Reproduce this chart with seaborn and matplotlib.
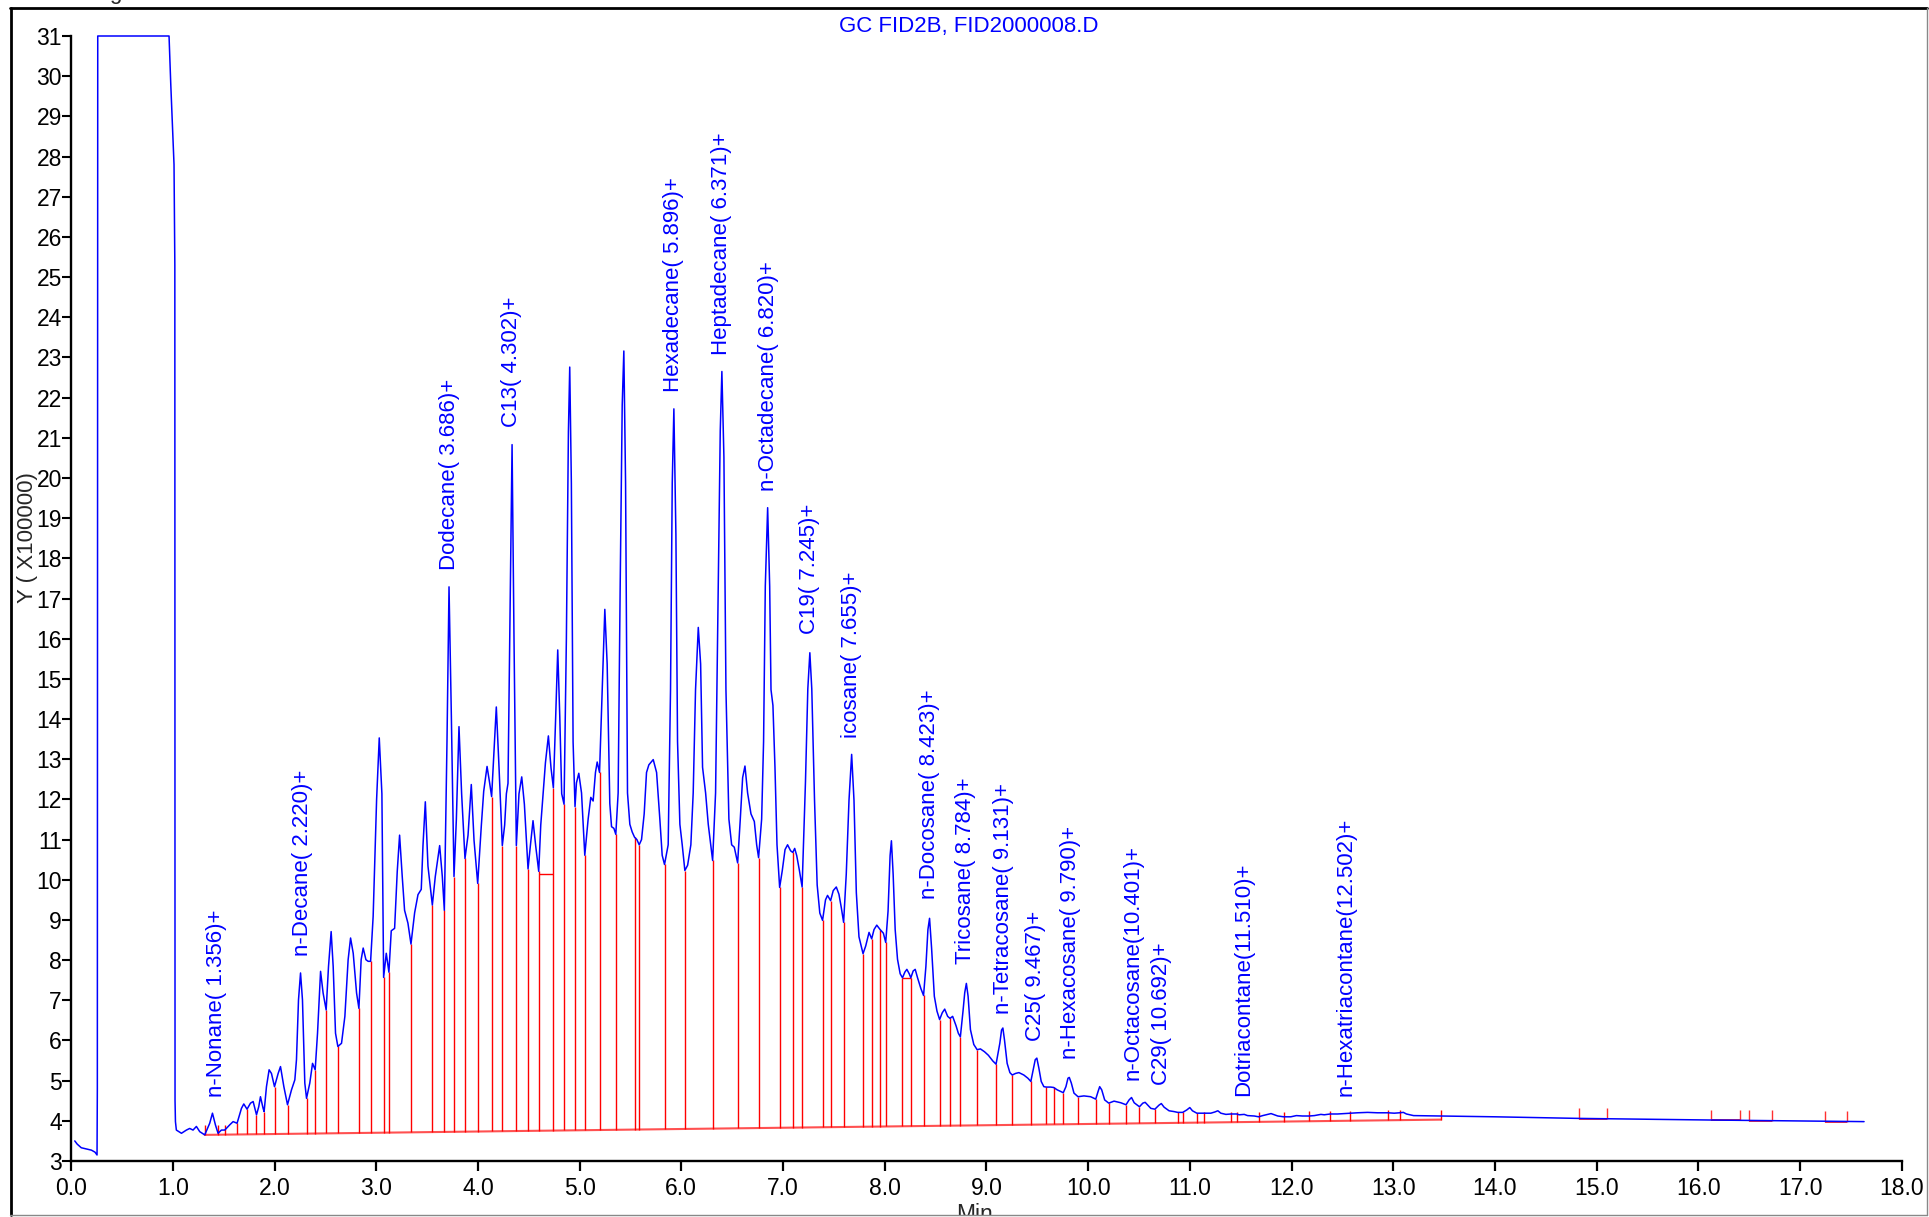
import numpy as np
import pandas as pd
import seaborn as sns
import matplotlib.pyplot as plt
from matplotlib.lines import Line2D
from matplotlib.patches import Rectangle

W, H = 1929, 1217

# chromatogram trace (retention time in min, signal x100000)
rt = [0.036, 0.060, 0.100, 0.150, 0.200, 0.235, 0.255, 0.258, 0.262, 0.963, 0.980, 1.012, 1.020, 1.022, 1.026,
      1.035, 1.085, 1.134, 1.166, 1.199, 1.232, 1.265, 1.314, 1.363, 1.390, 1.419, 1.445, 1.478, 1.511, 1.560,
      1.593, 1.632, 1.675, 1.698, 1.730, 1.764, 1.790, 1.823, 1.845, 1.862, 1.888, 1.898, 1.921, 1.947, 1.970,
      2.000, 2.036, 2.059, 2.092, 2.128, 2.167, 2.200, 2.216, 2.236, 2.256, 2.275, 2.298, 2.315, 2.347, 2.374,
      2.400, 2.423, 2.453, 2.478, 2.508, 2.531, 2.557, 2.577, 2.600, 2.623, 2.659, 2.692, 2.724, 2.748, 2.774,
      2.807, 2.830, 2.852, 2.872, 2.899, 2.921, 2.945, 2.970, 3.004, 3.030, 3.056, 3.073, 3.099, 3.125, 3.148,
      3.181, 3.207, 3.230, 3.256, 3.279, 3.312, 3.342, 3.378, 3.411, 3.443, 3.460, 3.483, 3.509, 3.552, 3.581,
      3.624, 3.650, 3.670, 3.696, 3.716, 3.739, 3.765, 3.788, 3.814, 3.840, 3.873, 3.903, 3.935, 3.962, 3.998,
      4.034, 4.057, 4.090, 4.116, 4.135, 4.155, 4.181, 4.208, 4.240, 4.263, 4.280, 4.296, 4.313, 4.336, 4.355,
      4.378, 4.404, 4.431, 4.457, 4.493, 4.516, 4.542, 4.568, 4.598, 4.618, 4.641, 4.664, 4.693, 4.719, 4.742,
      4.765, 4.785, 4.805, 4.824, 4.847, 4.870, 4.890, 4.903, 4.919, 4.936, 4.955, 4.969, 4.992, 5.019, 5.051,
      5.084, 5.110, 5.133, 5.156, 5.173, 5.196, 5.222, 5.248, 5.271, 5.297, 5.314, 5.337, 5.356, 5.379, 5.399,
      5.419, 5.435, 5.452, 5.471, 5.494, 5.517, 5.540, 5.563, 5.586, 5.609, 5.635, 5.658, 5.681, 5.724, 5.757,
      5.789, 5.812, 5.835, 5.871, 5.894, 5.911, 5.927, 5.947, 5.963, 5.986, 6.009, 6.035, 6.062, 6.094, 6.117,
      6.140, 6.167, 6.190, 6.209, 6.239, 6.265, 6.308, 6.337, 6.363, 6.383, 6.399, 6.419, 6.439, 6.468, 6.495,
      6.521, 6.554, 6.580, 6.603, 6.626, 6.652, 6.685, 6.718, 6.741, 6.760, 6.790, 6.809, 6.826, 6.849, 6.869,
      6.882, 6.901, 6.921, 6.941, 6.967, 6.993, 7.020, 7.045, 7.075, 7.096, 7.115, 7.135, 7.160, 7.188, 7.221,
      7.244, 7.264, 7.283, 7.310, 7.336, 7.362, 7.389, 7.418, 7.438, 7.468, 7.494, 7.524, 7.550, 7.573, 7.596,
      7.622, 7.649, 7.675, 7.698, 7.721, 7.747, 7.787, 7.813, 7.846, 7.872, 7.895, 7.922, 7.955, 7.987, 8.010,
      8.033, 8.053, 8.066, 8.083, 8.103, 8.126, 8.152, 8.175, 8.198, 8.218, 8.241, 8.257, 8.280, 8.300, 8.323,
      8.356, 8.382, 8.405, 8.425, 8.441, 8.461, 8.488, 8.514, 8.540, 8.566, 8.590, 8.619, 8.642, 8.668, 8.701,
      8.724, 8.744, 8.770, 8.787, 8.803, 8.820, 8.843, 8.876, 8.909, 8.941, 8.981, 9.020, 9.063, 9.095, 9.132,
      9.149, 9.162, 9.178, 9.204, 9.231, 9.254, 9.287, 9.320, 9.368, 9.408, 9.437, 9.460, 9.480, 9.496, 9.516,
      9.539, 9.565, 9.588, 9.631, 9.661, 9.697, 9.756, 9.782, 9.802, 9.815, 9.835, 9.861, 9.901, 9.959, 10.025,
      10.075, 10.098, 10.114, 10.134, 10.163, 10.203, 10.255, 10.321, 10.373, 10.403, 10.427, 10.453, 10.505,
      10.538, 10.561, 10.584, 10.617, 10.657, 10.697, 10.720, 10.747, 10.796, 10.845, 10.881, 10.930, 10.970,
      11.000, 11.026, 11.069, 11.141, 11.207, 11.246, 11.276, 11.305, 11.355, 11.404, 11.460, 11.486, 11.535,
      11.568, 11.634, 11.677, 11.717, 11.799, 11.865, 11.924, 11.993, 12.048, 12.108, 12.173, 12.224, 12.289,
      12.322, 12.381, 12.453, 12.518, 12.574, 12.649, 12.748, 12.846, 12.948, 13.010, 13.063, 13.100, 13.130,
      13.200, 13.470, 14.000, 14.830, 16.120, 17.630]

signal = [3.50, 3.42, 3.33, 3.30, 3.27, 3.22, 3.15, 4.80, 31.0, 31.0, 29.8, 27.8, 25.3, 4.50, 3.98,
          3.77, 3.69, 3.77, 3.81, 3.77, 3.86, 3.73, 3.65, 3.94, 4.19, 3.90, 3.69, 3.77, 3.77, 3.90,
          3.98, 3.94, 4.31, 4.42, 4.29, 4.44, 4.48, 4.15, 4.35, 4.60, 4.31, 4.23, 4.85, 5.27, 5.18,
          4.85, 5.18, 5.35, 4.85, 4.40, 4.77, 5.02, 5.52, 7.01, 7.68, 7.01, 4.94, 4.56, 4.94, 5.43,
          5.27, 6.18, 7.72, 7.18, 6.76, 7.84, 8.71, 7.84, 6.18, 5.85, 5.93, 6.60, 8.01, 8.55, 8.17,
          7.18, 6.80, 8.01, 8.30, 8.01, 7.97, 7.97, 9.09, 12.00, 13.53, 12.14, 7.57, 8.17, 7.70, 8.73,
          8.79, 10.21, 11.11, 10.08, 9.24, 8.92, 8.40, 9.18, 9.63, 9.76, 10.85, 11.94, 10.34, 9.37, 10.08,
          10.85, 10.08, 9.24, 13.43, 17.29, 14.07, 10.08, 11.49, 13.81, 12.14, 10.53, 11.11, 12.37, 10.98, 9.91,
          11.36, 12.20, 12.82, 12.40, 12.07, 13.04, 14.30, 12.78, 10.85, 11.36, 12.14, 12.40, 16.00, 20.83, 16.00,
          10.85, 12.14, 12.56, 11.88, 10.27, 10.85, 11.47, 10.85, 10.21, 11.36, 12.14, 12.91, 13.58, 12.78, 12.29,
          14.07, 15.72, 14.07, 12.14, 11.88, 16.00, 21.15, 22.76, 19.87, 13.43, 11.82, 12.41, 12.65, 12.16, 10.61,
          11.51, 12.05, 11.96, 12.67, 12.93, 12.67, 14.73, 16.73, 15.37, 11.90, 11.32, 11.28, 11.13, 12.16, 17.31,
          21.81, 23.16, 19.88, 12.16, 11.38, 11.19, 11.06, 11.00, 10.87, 11.00, 11.64, 12.67, 12.86, 12.99, 12.67,
          11.51, 10.61, 10.38, 10.87, 14.73, 19.88, 21.72, 18.59, 13.44, 11.38, 10.87, 10.23, 10.36, 10.87, 12.16,
          14.73, 16.28, 15.37, 12.80, 12.16, 11.38, 10.48, 12.16, 17.31, 21.17, 22.65, 20.52, 14.73, 11.51, 10.87,
          10.81, 10.42, 11.51, 12.54, 12.83, 12.16, 11.64, 11.45, 10.87, 10.55, 11.51, 13.44, 17.31, 19.26, 17.31,
          14.73, 14.34, 12.80, 10.87, 9.81, 10.23, 10.75, 10.87, 10.72, 10.68, 10.78, 10.60, 10.25, 9.82, 12.44,
          14.75, 15.65, 14.75, 11.98, 9.87, 9.17, 8.99, 9.50, 9.61, 9.48, 9.73, 9.82, 9.64, 9.31, 8.94,
          10.14, 11.98, 13.12, 11.98, 9.68, 8.58, 8.16, 8.35, 8.69, 8.53, 8.76, 8.87, 8.76, 8.67, 8.44,
          9.22, 10.60, 10.97, 10.14, 8.76, 8.02, 7.66, 7.56, 7.70, 7.77, 7.66, 7.56, 7.73, 7.77, 7.56,
          7.29, 7.12, 7.84, 8.76, 9.04, 8.30, 7.10, 6.73, 6.52, 6.69, 6.78, 6.60, 6.55, 6.60, 6.37,
          6.18, 6.09, 6.73, 7.19, 7.42, 7.10, 6.27, 5.90, 5.77, 5.79, 5.72, 5.63, 5.49, 5.41, 5.93,
          6.26, 6.31, 6.01, 5.43, 5.20, 5.14, 5.18, 5.20, 5.14, 5.06, 4.98, 5.27, 5.52, 5.56, 5.31,
          4.98, 4.85, 4.84, 4.84, 4.83, 4.77, 4.70, 4.85, 5.06, 5.08, 4.94, 4.69, 4.60, 4.62, 4.60,
          4.54, 4.73, 4.85, 4.77, 4.52, 4.44, 4.49, 4.45, 4.40, 4.52, 4.58, 4.45, 4.35,
          4.44, 4.46, 4.40, 4.31, 4.29, 4.39, 4.43, 4.34, 4.25, 4.23, 4.21, 4.21, 4.27,
          4.33, 4.25, 4.19, 4.19, 4.19, 4.22, 4.25, 4.19, 4.16, 4.17, 4.17, 4.15, 4.16,
          4.13, 4.12, 4.10, 4.13, 4.18, 4.12, 4.10, 4.10, 4.13, 4.12, 4.12, 4.13, 4.16,
          4.15, 4.17, 4.17, 4.18, 4.19, 4.20, 4.21, 4.20, 4.20, 4.19, 4.20, 4.21, 4.17,
          4.13, 4.12, 4.10, 4.06, 4.02, 3.98]

# peak integration drop lines and baseline
drop_rt = [1.314, 1.445, 1.511, 1.632, 1.730, 1.823, 1.898, 2.000, 2.128, 2.315, 2.400, 2.508, 2.623, 2.830,
           2.945, 3.073, 3.125, 3.342, 3.552, 3.670, 3.765, 3.873, 3.998, 4.135, 4.240, 4.378, 4.493, 4.598,
           4.742, 4.847, 4.955, 5.051, 5.196, 5.356, 5.540, 5.586, 5.835, 6.035, 6.308, 6.554, 6.760, 6.967,
           7.096, 7.188, 7.389, 7.468, 7.596, 7.787, 7.872, 7.955, 8.010, 8.175, 8.257, 8.382, 8.540, 8.642,
           8.744, 8.909, 9.095, 9.254, 9.437, 9.588, 9.661, 9.756, 9.901, 10.075, 10.203, 10.373, 10.505,
           10.657, 10.881, 10.930, 11.069, 11.141, 11.404, 11.460, 11.677, 11.924, 12.173, 12.381, 12.574,
           12.948, 13.063, 13.470]
baseline_rt = [1.314, 13.470]
baseline_val = [3.65, 4.03]
box_start = [4.598, 8.175]
box_end = [4.742, 8.257]
box_level = [10.14, 7.56]
tail_start = [14.83, 16.12, 16.50, 17.25]
tail_end = [15.10, 16.41, 16.72, 17.46]
tail_level = [4.04, 4.01, 4.00, 3.98]

# peak names
peak_names = ["n-Nonane( 1.356)+", "n-Decane( 2.220)+", "Dodecane( 3.686)+", "C13( 4.302)+",
              "Hexadecane( 5.896)+", "Heptadecane( 6.371)+", "n-Octadecane( 6.820)+", "C19( 7.245)+",
              "icosane( 7.655)+", "n-Docosane( 8.423)+", "Tricosane( 8.784)+", "n-Tetracosane( 9.131)+",
              "C25( 9.467)+", "n-Hexacosane( 9.790)+", "n-Octacosane(10.401)+", "C29( 10.692)+",
              "Dotriacontane(11.510)+", "n-Hexatriacontane(12.502)+"]
label_rt = [1.426, 2.273, 3.716, 4.329, 5.927, 6.396, 6.855, 7.264, 7.675, 8.445, 8.793, 9.170,
            9.483, 9.825, 10.44, 10.717, 11.53, 12.535]
label_y = [4.60, 8.09, 17.70, 21.27, 22.15, 23.05, 19.68, 16.12, 13.52, 9.52, 7.90, 6.65,
           5.98, 5.53, 5.02, 4.89, 4.62, 4.62]

x_ticks = list(range(0, 19))
y_ticks = list(range(3, 32))

sns.set_theme(style='white')
plt.rcParams['font.family'] = ['Liberation Sans', 'DejaVu Sans']

blue = '#0000ff'
red = '#ff0000'

fig = plt.figure(figsize=(W / 100, H / 100), dpi=100)
ax = fig.add_axes([71.1 / W, 1 - 1161 / H, (1901.7 - 71.1) / W, (1161 - 36) / H])

trace = pd.DataFrame({'rt': rt, 'signal': signal})
sns.lineplot(data=trace, x='rt', y='signal', sort=False, estimator=None,
             color=blue, linewidth=1.1, clip_on=False, ax=ax, zorder=3)

# baseline + drop lines
ax.plot(baseline_rt, baseline_val, color='#ff5050', lw=1.5, zorder=2)
base = np.interp(drop_rt, baseline_rt, baseline_val)
tops = np.maximum(np.interp(drop_rt, rt, signal), base + 0.25)
ax.vlines(drop_rt, base, tops, colors=red, lw=1.0, zorder=2)
ax.hlines(box_level, box_start, box_end, colors=red, lw=1.0, zorder=2)

# small integration brackets on the tail
ax.hlines(tail_level, tail_start, tail_end, colors='#e0203a', lw=1.3, zorder=2)
ax.vlines(tail_start + tail_end, tail_level + tail_level,
          np.array(tail_level + tail_level) + 0.27, colors='#ff3030', lw=1.0, zorder=2)

for name, x, y in zip(peak_names, label_rt, label_y):
    ax.text(x, y, name, rotation=90, ha='center', va='bottom', color=blue, fontsize=16)

ax.set_xlim(0, 18)
ax.set_ylim(3, 31)
ax.set_xticks(x_ticks)
ax.set_xticklabels([f'{v:.1f}' for v in x_ticks])
ax.set_yticks(y_ticks)
ax.set_yticklabels([str(v) for v in y_ticks])
ax.set_xlabel('')
ax.set_ylabel('')
sns.despine(ax=ax)
for s in ['left', 'bottom']:
    ax.spines[s].set_linewidth(1.7)
    ax.spines[s].set_color('black')
ax.tick_params(axis='x', bottom=True, direction='out', length=7.2, width=1.6, pad=4,
               labelsize=16.5, colors='black')
ax.tick_params(axis='y', left=True, direction='out', length=6.2, width=1.5, pad=0.5,
               labelsize=16.5, colors='black')
ax.set_facecolor('white')

# texts outside the axes
fig.text(27.5 / W, 1 - 538 / H, 'Y ( X100000)', rotation=90, ha='center', va='center', fontsize=16)
fig.text(969 / W, 1 - 31.7 / H, 'GC FID2B, FID2000008.D', ha='center', va='baseline',
         color=blue, fontsize=16)
fig.text(975 / W, 1 - 1203 / H, 'Min', ha='center', va='top', fontsize=16.5)
fig.text(115 / W, 1 + 0.6 / H, 'g', ha='center', va='baseline', fontsize=16)

# outer frame, anything past it is cut
fig.add_artist(Rectangle((1926.7 / W, 0), 1, 1, transform=fig.transFigure,
                         facecolor='white', edgecolor='none', zorder=10))
fig.add_artist(Rectangle((0, 0), 1, (H - 1215.3) / H, transform=fig.transFigure,
                         facecolor='white', edgecolor='none', zorder=10))
fig.add_artist(Line2D([10 / W, 1926.7 / W], [1 - 7.5 / H] * 2, transform=fig.transFigure,
                      color='black', lw=2, zorder=11))
fig.add_artist(Line2D([10.5 / W] * 2, [1 - 1215.3 / H, 1 - 7.5 / H], transform=fig.transFigure,
                      color='black', lw=2, zorder=11))
fig.add_artist(Line2D([1926.7 / W] * 2, [1 - 1215.3 / H, 1 - 7.5 / H], transform=fig.transFigure,
                      color='#888888', lw=1, zorder=11))
fig.add_artist(Line2D([10 / W, 1926.7 / W], [1 - 1215.3 / H] * 2, transform=fig.transFigure,
                      color='#888888', lw=1, zorder=11))

fig.savefig('out.png', dpi=100)
